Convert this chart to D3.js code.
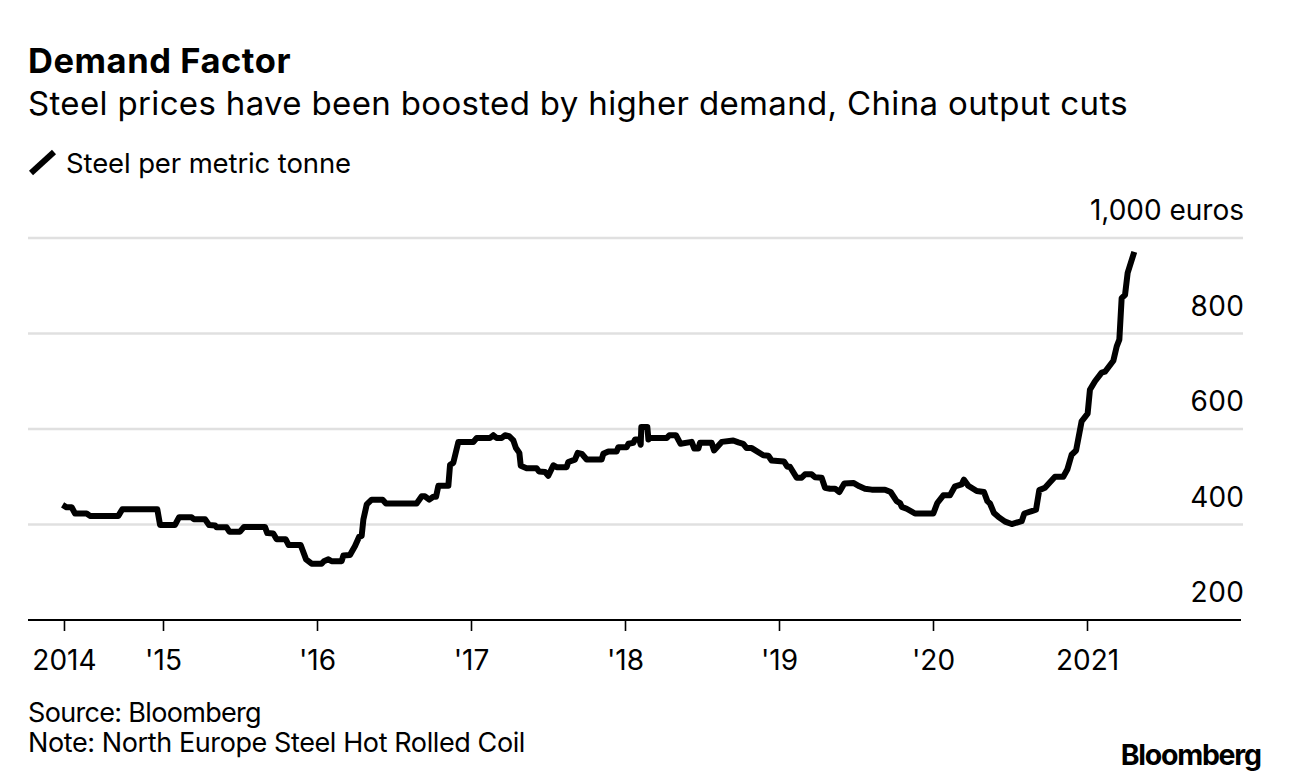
<!DOCTYPE html>
<html><head><meta charset="utf-8">
<script src="https://cdn.jsdelivr.net/npm/d3@7"></script>
<style>
html,body{margin:0;padding:0;background:#fff}
svg{display:block}
text{font-family:"Inter","Liberation Sans",Arial,sans-serif;fill:#000}
</style></head><body>
<script>
const yearFrac = [2014.348,2014.374,2014.407,2014.429,2014.504,2014.526,2014.710,2014.736,2014.963,2014.981,2015.078,2015.104,2015.186,2015.201,2015.273,2015.299,2015.338,2015.348,2015.413,2015.431,2015.5,2015.526,2015.662,2015.677,2015.716,2015.738,2015.797,2015.816,2015.894,2015.929,2015.965,2016.030,2016.045,2016.074,2016.095,2016.160,2016.171,2016.214,2016.247,2016.273,2016.290,2016.301,2016.323,2016.355,2016.426,2016.448,2016.647,2016.680,2016.701,2016.729,2016.755,2016.773,2016.788,2016.853,
2016.864,2016.885,2016.918,2017.015,2017.037,2017.123,2017.145,2017.167,2017.199,2017.221,2017.247,2017.275,2017.292,2017.314,2017.323,2017.361,2017.426,2017.442,2017.481,2017.502,2017.535,2017.556,2017.621,2017.632,2017.675,2017.693,2017.719,2017.751,2017.848,2017.859,2017.892,2017.946,2017.957,2018.011,2018.022,2018.054,2018.065,2018.093,2018.102,2018.106,2018.145,2018.152,2018.162,2018.271,2018.288,2018.331,2018.361,2018.433,2018.450,2018.476,2018.487,2018.563,2018.578,2018.628,2018.703,2018.736,2018.768,2018.790,2018.823,2018.898,2018.931,2018.952,2019.032,2019.054,2019.071,2019.115,2019.147,2019.169,2019.212,2019.234,2019.277,2019.299,2019.331,2019.364,2019.392,2019.424,2019.483,2019.522,
2019.558,2019.602,2019.688,2019.725,2019.764,2019.786,2019.797,2019.829,2019.883,2020.002,2020.028,2020.067,2020.110,2020.143,2020.186,2020.201,2020.229,2020.284,2020.331,2020.353,2020.370,2020.396,2020.424,2020.468,2020.511,2020.576,2020.593,2020.641,2020.669,2020.690,2020.727,2020.792,2020.846,2020.872,2020.900,2020.929,2020.965,2021.004,2021.019,2021.052,2021.095,2021.117,2021.171,2021.193,2021.210,2021.225,2021.247,2021.264,2021.307];
const steelEuros = [441,436,436,423,423,418,418,432,432,399,399,415,415,411,411,399,398,394,394,385,385,395,395,382,381,369,369,357,357,327,318,318,323,327,323,323,335,336,355,374,376,410,442,452,452,444,444,459,459,452,458,458,481,481,
525,529,573,573,581,581,587,581,581,587,585,576,560,550,523,518,518,511,510,502,524,520,520,531,536,550,548,536,536,548,553,553,562,562,569,571,578,578,567,604,604,578,581,581,587,587,569,573,559,559,571,571,555,573,576,572,569,560,560,545,544,534,532,521,521,498,498,505,505,499,498,477,475,475,468,486,487,480,
475,473,473,468,449,445,437,433,423,423,445,461,461,480,484,494,481,470,468,449,444,424,416,406,401,407,423,428,431,472,477,500,500,515,546,555,616,632,682,700,718,720,743,773,787,874,881,927,971];
const xTickYears = [2014.357,2015,2016,2017,2018,2019,2020,2021];
const xTickLabels = ["2014","'15","'16","'17","'18","'19","'20","2021"];
const yGridValues = [1000,800,600,400];
const yTickValues = [1000,800,600,400,200];
const yTickLabels = ["1,000 euros","800","600","400","200"];
const W=1289,H=782;
const x=d3.scaleLinear().domain([2015,2021]).range([163,1087]);
const y=d3.scaleLinear().domain([200,1000]).range([620,238]);
const svg=d3.select("body").append("svg").attr("width",W).attr("height",H);
// Spread a label to the width it has in the reference.
const fit=(sel,width)=>{const n=sel.node();const s=sel.text().length;const ls=(width-n.getComputedTextLength())/s;sel.attr("letter-spacing",ls);if(sel.attr("text-anchor")==="end")sel.attr("x",+sel.attr("x")+ls);return sel;};
const txt=(s,px,py,size,weight,anchor)=>svg.append("text").attr("x",px).attr("y",py).attr("font-size",size).attr("font-weight",weight||400).attr("text-anchor",anchor||"start").text(s);
fit(txt("Demand Factor",28,73,34.5,700),263);
fit(txt("Steel prices have been boosted by higher demand, China output cuts",28,115,33,400),1100);
svg.append("line").attr("x1",31).attr("y1",173).attr("x2",54).attr("y2",152).attr("stroke","#000").attr("stroke-width",6);
fit(txt("Steel per metric tonne",66,173,27.5,400),285);
svg.append("g").selectAll("line").data(yGridValues).join("line")
 .attr("x1",28).attr("x2",1243).attr("y1",d=>y(d)).attr("y2",d=>y(d)).attr("stroke","#e0e0e0").attr("stroke-width",2.5);
svg.append("g").selectAll("text").data(yTickValues).join("text")
 .attr("x",1244).attr("y",d=>y(d)-18).attr("text-anchor","end").attr("font-size",28).text((d,i)=>yTickLabels[i])
 .each(function(d,i){fit(d3.select(this),i===0?154:54);});
const xAxis=d3.axisBottom(x).tickValues(xTickYears).tickFormat((d,i)=>xTickLabels[i]).tickSize(11).tickSizeOuter(0);
const xg=svg.append("g").attr("transform","translate(0,620)").call(xAxis);
xg.select(".domain").remove();
xg.selectAll(".tick line").attr("stroke","#000").attr("stroke-width",1.6);
xg.selectAll(".tick text").attr("font-size",28).attr("font-family",null).attr("dy",0).attr("y",50).attr("fill","#000");
svg.append("line").attr("x1",28).attr("x2",1241).attr("y1",620).attr("y2",620).attr("stroke","#000").attr("stroke-width",2);
const line=d3.line().x(d=>x(d[0])).y(d=>y(d[1]));
svg.append("path").datum(d3.zip(yearFrac,steelEuros)).attr("d",line).attr("fill","none").attr("stroke","#000").attr("stroke-width",6).attr("stroke-linejoin","round");
fit(txt("Source: Bloomberg",28,722,27,400),233);
fit(txt("Note: North Europe Steel Hot Rolled Coil",28,752,27,400),497);
fit(txt("Bloomberg",1262,765,28.5,700,"end"),140);
</script>
</body></html>
